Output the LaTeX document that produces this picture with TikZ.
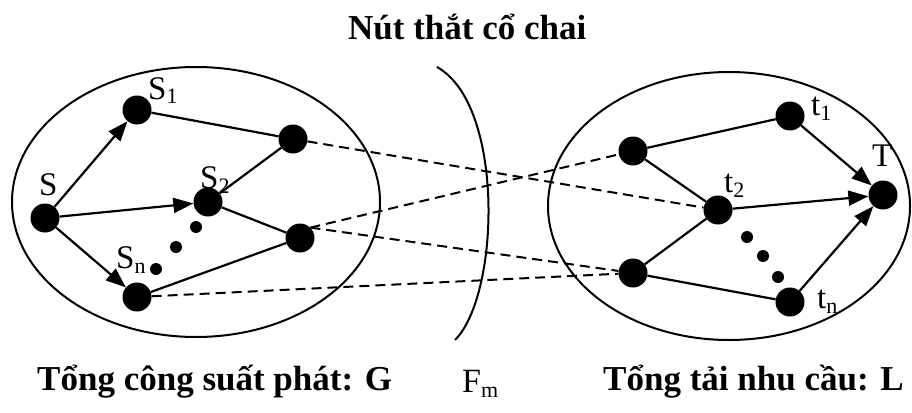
\documentclass[tikz,border=0pt]{standalone}
\usepackage{fontspec}
\setmainfont{Liberation Serif}
\usetikzlibrary{arrows.meta}

\newcommand{\sublbl}[2]{#1\raisebox{-5pt}{\fontsize{22}{22}\selectfont #2}}

\begin{document}
\begin{tikzpicture}[
    x=1pt, y=-1pt,
    % Node styles
    vtx/.style={circle, fill=black, minimum size=29pt, inner sep=0pt},
    dot/.style={circle, fill=black, minimum size=12pt, inner sep=0pt},
    lbl/.style={anchor=base west, inner sep=0pt, font=\fontsize{33}{33}\selectfont},
    heading/.style={anchor=base west, inner sep=0pt, font=\fontsize{35}{40}\selectfont\bfseries},
    % Line styles
    flow/.style={line width=2.2pt, -{Triangle[length=20pt,width=15pt]}},
    link/.style={line width=2.2pt},
    cut/.style={line width=2pt, dash pattern=on 10pt off 6pt},
  ]
  \useasboundingbox (0,0) rectangle (912,412);

  % === Generation side (G) ===
  \draw[line width=2pt] (196,202) ellipse [x radius=184pt, y radius=135pt];

  \node[vtx] (s) at (45,218) {};
  \node[vtx] (s1) at (137,110) {};
  \node[vtx] (s2) at (208,202) {};
  \node[vtx] (sn) at (137,297) {};
  \node[vtx] (ga) at (293,139) {};
  \node[vtx] (gb) at (300,238) {};

  \node[dot] (gd1) at (196,227) {};
  \node[dot] (gd2) at (176,247) {};
  \node[dot] (gd3) at (156,269) {};

  \node[lbl] (ls) at (39,195) {S};
  \node[lbl] (ls1) at (148,99) {\sublbl{S}{1}};
  \node[lbl] (ls2) at (200,188) {\sublbl{S}{2}};
  \node[lbl] (lsn) at (116,268) {\sublbl{S}{n}};

  \draw[flow] (s) -- (s1);
  \draw[flow] (s) -- (s2);
  \draw[flow] (s) -- (sn);
  \draw[link] (s1) -- (ga);
  \draw[link] (s2) -- (ga);
  \draw[link] (s2) -- (gb);
  \draw[link] (sn) -- (gb);

  % === Load side (L) ===
  \draw[line width=2pt] (729,206) ellipse [x radius=181pt, y radius=134pt];

  \node[vtx] (lc) at (633,151) {};
  \node[vtx] (ld) at (633,273) {};
  \node[vtx] (t1) at (790,116) {};
  \node[vtx] (t2) at (718,210) {};
  \node[vtx] (tn) at (790,302) {};
  \node[vtx] (t) at (883,195) {};

  \node[dot] (ld1) at (747,237) {};
  \node[dot] (ld2) at (763,256) {};
  \node[dot] (ld3) at (778,277) {};

  \node[lbl] (lt1) at (811,115) {\sublbl{t}{1}};
  \node[lbl] (lt2) at (724,192) {\sublbl{t}{2}};
  \node[lbl] (ltn) at (817,308) {\sublbl{t}{n}};
  \node[lbl] (lt) at (872,166) {T};

  \draw[link] (lc) -- (t1);
  \draw[link] (lc) -- (t2);
  \draw[link] (ld) -- (t2);
  \draw[link] (ld) -- (tn);
  \draw[flow] (t1) -- (t);
  \draw[flow] (t2) -- (t);
  \draw[flow] (tn) -- (t);

  % === Bottleneck cut ===
  \draw[line width=2pt] (437,67) .. controls (505,105) and (500,295) .. (455,340);

  \draw[cut] (ga) -- (t2);
  \draw[cut] (gb.north east) -- (lc);
  \draw[cut] (gb.north east) -- (ld);
  \draw[cut] (sn) -- (ld);

  % === Captions ===
  \node[heading] (title) at (348,40) {Nút thắt cổ chai};
  \node[heading] (capg) at (37,390) {Tổng công suất phát: G};
  \node[heading] (capl) at (603,390) {Tổng tải nhu cầu: L};
  \node[lbl, font=\fontsize{34}{34}\selectfont] (fm) at (462,392) {\sublbl{F}{m}};

\end{tikzpicture}
\end{document}
